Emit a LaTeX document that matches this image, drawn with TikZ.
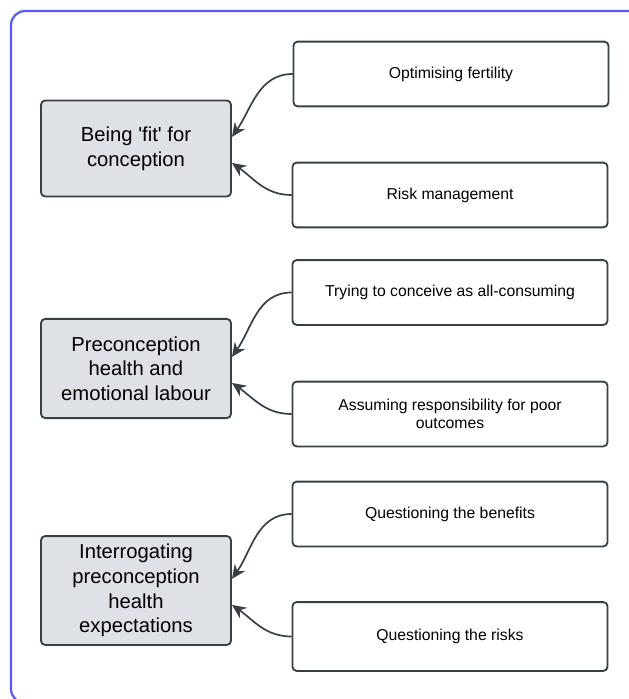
\documentclass[tikz,border=0pt]{standalone}
\usepackage{fontspec}
\setmainfont{Liberation Sans}
\usepackage{tikz}
\usetikzlibrary{arrows.meta}
\tikzset{>={Stealth[length=10pt,width=9pt]}}
\usepackage{xcolor}
\definecolor{frameblue}{RGB}{92,92,240}
\definecolor{themegray}{RGB}{222,225,230}
\definecolor{edgegray}{RGB}{58,63,69}
\tikzstyle{theme}=[draw=edgegray,fill=themegray,line width=1.3pt,rounded corners=3pt,minimum width=4.75cm,minimum height=2.4cm,align=center,font=\fontsize{14.4}{17.5}\selectfont]
\tikzstyle{subtheme}=[draw=edgegray,fill=white,line width=1.3pt,rounded corners=3pt,minimum width=7.875cm,minimum height=1.62cm,align=center,font=\fontsize{11.2}{13}\selectfont]
\tikzstyle{link}=[->,draw=edgegray,line width=1.2pt]

\begin{document}
\begin{tikzpicture}[x=0.025cm,y=-0.025cm]
\useasboundingbox (0,0) rectangle (629,699);
\clip (0,0) rectangle (629,699);
\draw[frameblue,line width=1.6pt,rounded corners=10pt] (11,11) rectangle (660,703);

\node[theme] (fit) at (136,148.5) {Being \textquotesingle fit\textquotesingle{} for\\conception};
\node[theme,minimum height=2.48cm] (labour) at (136,368.5) {Preconception\\health and\\emotional labour};
\node[theme,minimum height=2.72cm] (expect) at (136,590.5) {Interrogating\\preconception\\health\\expectations};

\node[subtheme] (fertility) at (451,74) {Optimising fertility};
\node[subtheme] (risk) at (450,195) {Risk management};
\node[subtheme] (consuming) at (450,292.5) {Trying to conceive as all-consuming};
\node[subtheme] (blame) at (450,414) {Assuming responsibility for poor\\outcomes};
\node[subtheme] (benefits) at (450,514) {Questioning the benefits};
\node[subtheme,minimum height=1.72cm] (risks) at (450,636.5) {Questioning the risks};

\draw[link] (fertility.west) to[out=180,in=55] ([yshift=0.29cm]fit.east);
\draw[link] (risk.west) to[out=180,in=-35] ([yshift=-0.36cm]fit.east);
\draw[link] (consuming.west) to[out=180,in=55] ([yshift=0.29cm]labour.east);
\draw[link] (blame.west) to[out=180,in=-35] ([yshift=-0.36cm]labour.east);
\draw[link] (benefits.west) to[out=180,in=55] ([yshift=0.29cm]expect.east);
\draw[link] (risks.west) to[out=180,in=-35] ([yshift=-0.36cm]expect.east);
\end{tikzpicture}
\end{document}
